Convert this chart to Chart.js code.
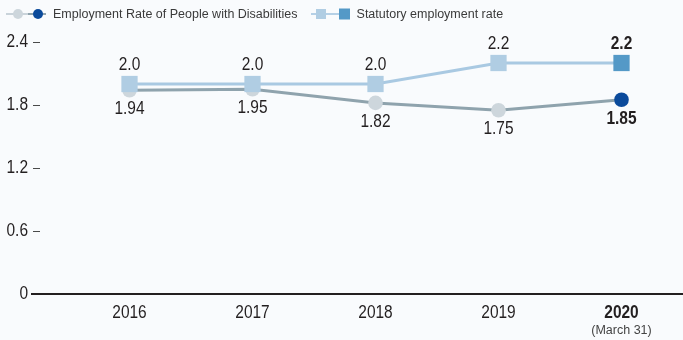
<!DOCTYPE html>
<html>
<head>
<meta charset="utf-8">
<script src="https://cdn.jsdelivr.net/npm/chart.js@4"></script>
<style>
  html, body { margin: 0; padding: 0; background: #f9fbfd; }
  #wrap { position: relative; width: 683px; height: 340px; }
  #chart { position: absolute; left: 0; top: 0; }
  #legend { position: absolute; left: 0; top: 5px; height: 18px; display: flex; align-items: center;
            font-family: "Liberation Sans", Arial, sans-serif; font-size: 12.5px; color: #3a3a3a; }
  .item { display: flex; align-items: center; }
  .item svg { margin-right: 6px; }
</style>
</head>
<body>
<div id="wrap">
  <canvas id="chart" width="683" height="340"></canvas>
  <div id="legend">
    <div class="item" style="margin-left:5px; margin-right:11px">
      <svg width="42" height="14"><line x1="1" y1="7" x2="41" y2="7" stroke="#c9d3da" stroke-width="2"/><line x1="23" y1="7" x2="41" y2="7" stroke="#8fa3ad" stroke-width="2"/><circle cx="13" cy="7" r="5" fill="#cdd6dc"/><circle cx="33" cy="7" r="5" fill="#0b4a9b"/></svg>
      <span>Employment Rate of People with Disabilities</span>
    </div>
    <div class="item">
      <svg width="42" height="14"><line x1="2" y1="7" x2="41" y2="7" stroke="#b5d0e6" stroke-width="2"/><rect x="7" y="2" width="10" height="10" fill="#b0cde3"/><rect x="30" y="1.5" width="11" height="11" fill="#5499c7"/></svg>
      <span>Statutory employment rate</span>
    </div>
  </div>
</div>
<script>
const years = ['2016', '2017', '2018', '2019', '2020'];
const disabilityRate = [1.94, 1.95, 1.82, 1.75, 1.85];
const statutoryRate = [2.0, 2.0, 2.0, 2.2, 2.2];
const statutoryText = ['2.0', '2.0', '2.0', '2.2', '2.2'];
const disabilityText = ['1.94', '1.95', '1.82', '1.75', '1.85'];
const yTicks = [0, 0.6, 1.2, 1.8, 2.4];
const yTickText = ['0', '0.6', '1.2', '1.8', '2.4'];
const lastNote = '(March 31)';

const FAMILY = '"Liberation Sans", Arial, sans-serif';
const INK = '#231f20';
const SQUEEZE = 0.86;   // condensed look for the figures
const last = years.length - 1;

function narrowText(ctx, text, x, y, font, align, squeeze = SQUEEZE) {
  ctx.save();
  ctx.translate(x, y);
  ctx.scale(squeeze, 1);
  ctx.font = font;
  ctx.textAlign = align;
  ctx.textBaseline = 'middle';
  ctx.fillText(text, 0, 0);
  ctx.restore();
}

// value labels above the squares and below the circles, latest year in bold
const valueLabels = {
  id: 'valueLabels',
  afterDatasetsDraw(chart) {
    const ctx = chart.ctx;
    ctx.save();
    ctx.fillStyle = INK;
    const sq = chart.getDatasetMeta(0).data;
    const ci = chart.getDatasetMeta(1).data;
    sq.forEach((pt, i) => {
      narrowText(ctx, statutoryText[i], pt.x, pt.y - 18.5, (i === last ? 'bold ' : '') + '18px ' + FAMILY, 'center');
    });
    ci.forEach((pt, i) => {
      narrowText(ctx, disabilityText[i], pt.x, pt.y + 19, (i === last ? 'bold ' : '') + '18px ' + FAMILY, 'center');
    });
    ctx.restore();
  }
};

// axis text, zero baseline across the full width, short dashes beside the other ticks
const axisDecor = {
  id: 'axisDecor',
  afterDraw(chart) {
    const ctx = chart.ctx;
    const y = chart.scales.y;
    const x = chart.scales.x;
    ctx.save();
    ctx.strokeStyle = INK;
    ctx.lineWidth = 2;
    const y0 = Math.round(y.getPixelForValue(0));
    ctx.beginPath();
    ctx.moveTo(31, y0);
    ctx.lineTo(chart.width, y0);
    ctx.stroke();
    ctx.lineWidth = 1;
    ctx.strokeStyle = '#4a4a4a';
    ctx.fillStyle = INK;
    yTicks.forEach((v, i) => {
      const py = y.getPixelForValue(v);
      narrowText(ctx, yTickText[i], 28, py, '18px ' + FAMILY, 'right');
      if (v > 0) {
        const ly = Math.round(py) + 0.5;
        ctx.beginPath();
        ctx.moveTo(33, ly);
        ctx.lineTo(40, ly);
        ctx.stroke();
      }
    });
    years.forEach((label, i) => {
      narrowText(ctx, label, x.getPixelForValue(i), 313, (i === last ? 'bold ' : '') + '18px ' + FAMILY, 'center');
    });
    ctx.fillStyle = '#444';
    narrowText(ctx, lastNote, x.getPixelForValue(last), 331, '12.5px ' + FAMILY, 'center', 1);
    ctx.restore();
  }
};

new Chart(document.getElementById('chart'), {
  type: 'line',
  data: {
    labels: years,
    datasets: [
      {
        label: 'Statutory employment rate',
        data: statutoryRate,
        order: 0,
        borderColor: '#a9c9e2',
        borderWidth: 3,
        pointStyle: 'rect',
        pointRadius: 11.5,
        pointHoverRadius: 11.5,
        pointBorderWidth: 0,
        pointBackgroundColor: statutoryRate.map((v, i) => i === last ? '#5499c7' : '#b0cde3'),
        tension: 0
      },
      {
        label: 'Employment Rate of People with Disabilities',
        data: disabilityRate,
        order: 1,
        borderColor: '#8fa3ad',
        borderWidth: 3,
        pointStyle: 'circle',
        pointRadius: 7.3,
        pointHoverRadius: 7.3,
        pointBorderWidth: 0,
        pointBackgroundColor: disabilityRate.map((v, i) => i === last ? '#0b4a9b' : '#cdd6dc'),
        tension: 0
      }
    ]
  },
  options: {
    responsive: false,
    animation: false,
    clip: false,
    layout: { autoPadding: false, padding: { top: 42, right: 0, left: 0, bottom: 0 } },
    plugins: { legend: { display: false }, tooltip: { enabled: false } },
    scales: {
      x: {
        offset: true,
        grid: { display: false, drawTicks: false },
        border: { display: false },
        ticks: { display: false },
        afterFit(s) { s.height = 46; }
      },
      y: {
        min: 0,
        max: 2.4,
        grid: { display: false, drawTicks: false },
        border: { display: false },
        ticks: { display: false },
        afterFit(s) { s.width = 68; },
        afterBuildTicks(s) { s.ticks = yTicks.map(v => ({ value: v })); }
      }
    }
  },
  plugins: [valueLabels, axisDecor]
});
</script>
</body>
</html>
